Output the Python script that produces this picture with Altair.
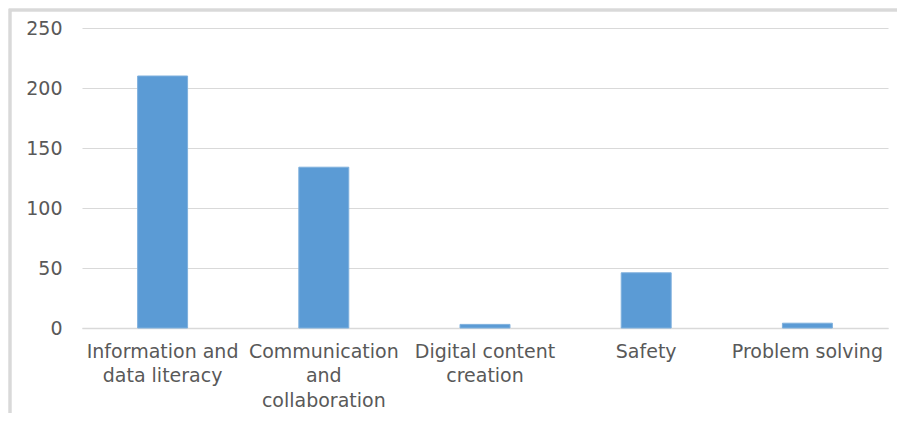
import altair as alt
import pandas as pd

categories = ["Information and data literacy", "Communication and collaboration",
              "Digital content creation", "Safety", "Problem solving"]
values = [210, 134, 3, 46, 4]
label_lines = [["Information and", "data literacy"],
               ["Communication", "and", "collaboration"],
               ["Digital content", "creation"],
               ["Safety"],
               ["Problem solving"]]
y_ticks = [0, 50, 100, 150, 200, 250]

df = pd.DataFrame({"category": categories, "value": values})

expr = "datum.label"
for cat, lines in reversed(list(zip(categories, label_lines))):
    arr = "[" + ",".join("'" + l + "'" for l in lines) + "]"
    expr = f"datum.label == '{cat}' ? {arr} : ({expr})"

FONT = "DejaVu Sans"
GRAY = "#595959"
GRID = "#D9D9D9"

bars = alt.Chart(df).mark_bar(color="#5B9BD5", stroke="#7FB0DD", strokeWidth=1).encode(
    x=alt.X("category:N", sort=categories, title=None,
            scale=alt.Scale(paddingInner=0.69, paddingOuter=0.345),
            axis=alt.Axis(labelAngle=0, labelExpr=expr, labelFont=FONT, labelFontSize=19,
                          labelColor=GRAY, labelPadding=14, labelLineHeight=24.5,
                          ticks=False, domain=True, domainColor=GRID, domainWidth=1.5,
                          labelLimit=300, labelBaseline="top")),
    y=alt.Y("value:Q", title=None,
            scale=alt.Scale(domain=[0, 250], nice=False),
            axis=alt.Axis(values=y_ticks, labelFont=FONT, labelFontSize=19, labelColor=GRAY,
                          labelPadding=20, ticks=False, domain=False, gridColor=GRID,
                          gridWidth=1.2)),
)

frame = alt.Chart(df).mark_rect(fill=None, stroke=GRID, strokeWidth=2.5).encode(
    x=alt.value(-72), x2=alt.value(860), y=alt.value(-18), y2=alt.value(420)
)

chart = alt.layer(frame, bars).properties(
    width=806, height=300,
    autosize=alt.AutoSizeParams(type="none"),
    padding={"left": 74, "top": 20, "right": 9, "bottom": 85},
).configure_view(stroke=None)

chart.save("out.html", embed_options={"renderer": "svg", "actions": False})
